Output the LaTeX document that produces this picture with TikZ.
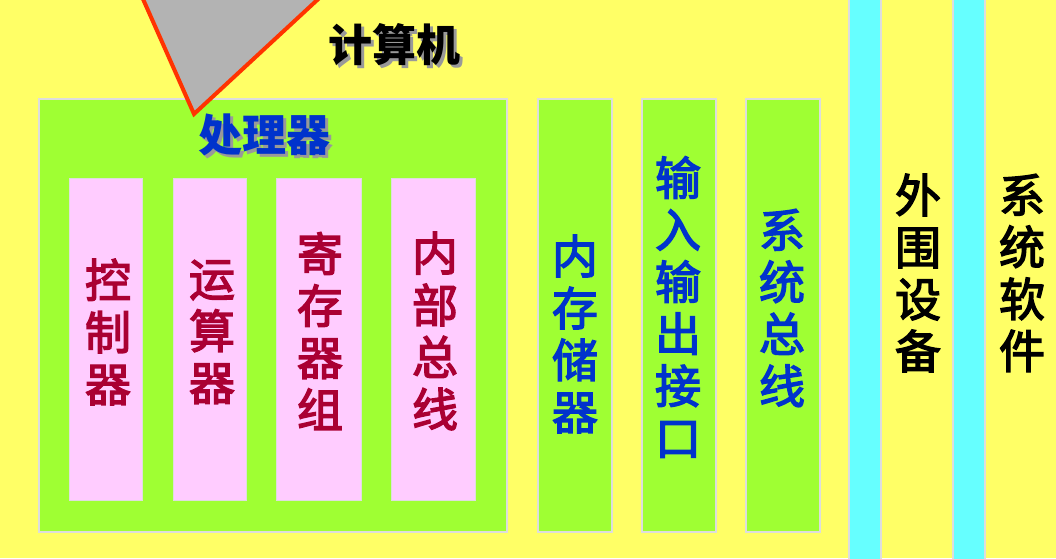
\documentclass[tikz,border=0pt]{standalone}
\usepackage{fontspec}
\newfontfamily\cjk[FakeBold=3]{Noto Sans CJK SC}
\newfontfamily\cjktitle{Noto Sans CJK SC}
\definecolor{bgyellow}{HTML}{FFFF66}
\definecolor{boxgreen}{HTML}{9FFF33}
\definecolor{boxpink}{HTML}{FFCCFF}
\definecolor{stripcyan}{HTML}{66FFFF}
\definecolor{edgegrey}{HTML}{DDDDDD}
\definecolor{txtred}{HTML}{AA0033}
\definecolor{txtblue}{HTML}{0033CC}
\definecolor{trigrey}{HTML}{B3B3B3}
\definecolor{trired}{HTML}{FF3300}
\definecolor{shadowgrey}{HTML}{999999}
\newcommand{\shadowtext}[2]{\rlap{\hspace{3pt}\raisebox{-3pt}{\textcolor{shadowgrey}{#2}}}\textcolor{#1}{#2}}
\tikzset{
  greenbox/.style={draw=edgegrey, line width=2pt, fill=boxgreen, anchor=north west, inner sep=0pt},
  pinkbox/.style={draw=edgegrey, line width=0.8pt, fill=boxpink, anchor=north west, inner sep=0pt},
  cyanbox/.style={draw=edgegrey, line width=2pt, fill=stripcyan, anchor=north west, inner sep=0pt},
  vtext/.style={font=\cjk\fontsize{46}{52}\selectfont, align=center, inner sep=0pt},
  title/.style={font=\cjktitle\bfseries\fontsize{44}{48}\selectfont, inner sep=0pt},
}
\begin{document}
\begin{tikzpicture}[x=1pt,y=-1pt]
\useasboundingbox (0,0) rectangle (1056,558);
\fill[bgyellow] (0,0) rectangle (1056,558);
% cyan strips
\node[cyanbox, minimum width=32pt, minimum height=564pt] (cyan1) at (848,-3) {};
\node[cyanbox, minimum width=32pt, minimum height=564pt] (cyan2) at (952,-3) {};
% processor box
\node[greenbox, minimum width=468pt, minimum height=433pt] (cpu) at (38,98) {};
% pink columns
\node[pinkbox, minimum width=73pt, minimum height=322pt] (ctrl) at (69,178) {};
\node[pinkbox, minimum width=73pt, minimum height=322pt] (alu) at (173,178) {};
\node[pinkbox, minimum width=85pt, minimum height=322pt] (regs) at (276,178) {};
\node[pinkbox, minimum width=84pt, minimum height=322pt] (ibus) at (391,178) {};
% green columns
\node[greenbox, minimum width=74pt, minimum height=433pt] (mem) at (537,98) {};
\node[greenbox, minimum width=74pt, minimum height=433pt] (io) at (641,98) {};
\node[greenbox, minimum width=74pt, minimum height=433pt] (sbus) at (745,98) {};
% triangle
\draw[trired, line width=4pt, fill=trigrey, line join=miter] (139,-10) -- (194,114) -- (328,-10);
% titles with shadows
\node[title] (computer) at (394,46) {\shadowtext{black}{计算机}};
\node[title] (cputitle) at (264,136) {\shadowtext{txtblue}{处理器}};
% column texts
\node[vtext, text=txtred] (ctrlt) at (108,332) {控\\制\\器};
\node[vtext, text=txtred] (alut) at (212,332) {运\\算\\器};
\node[vtext, text=txtred] (regst) at (320,331) {寄\\存\\器\\组};
\node[vtext, text=txtred] (ibust) at (435,331) {内\\部\\总\\线};
\node[vtext, text=txtblue] (memt) at (575,334) {内\\存\\储\\器};
\node[vtext, text=txtblue] (iot) at (678,307) {输\\入\\输\\出\\接\\口};
\node[vtext, text=txtblue] (sbust) at (782,308) {系\\统\\总\\线};
\node[vtext, text=black] (periph) at (918,273) {外\\围\\设\\备};
\node[vtext, text=black] (syssw) at (1022,273) {系\\统\\软\\件};
\end{tikzpicture}
\end{document}
